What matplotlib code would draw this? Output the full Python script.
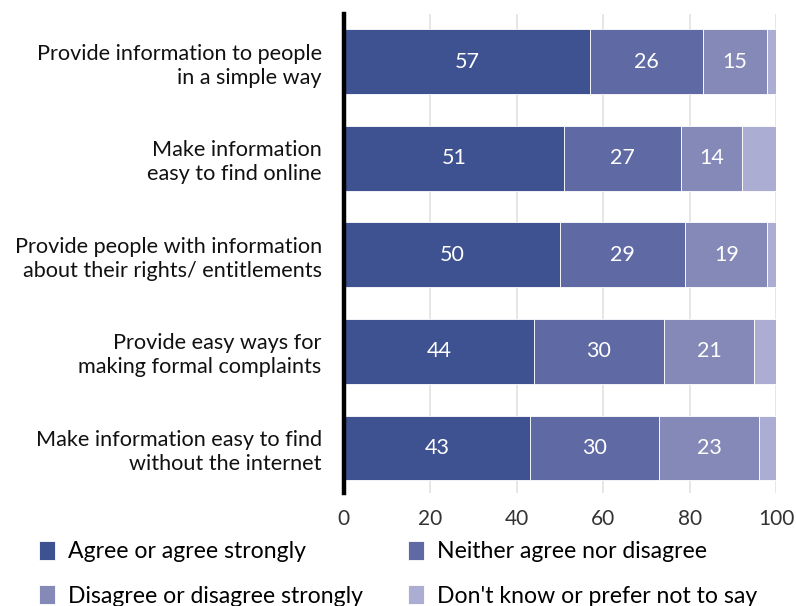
import matplotlib
matplotlib.use("Agg")
import matplotlib.pyplot as plt
import numpy as np

plt.rcParams['font.family'] = ['Lato', 'DejaVu Sans']

categories = [
    "Provide information to people\nin a simple way",
    "Make information\neasy to find online",
    "Provide people with information\nabout their rights/ entitlements",
    "Provide easy ways for\nmaking formal complaints",
    "Make information easy to find\nwithout the internet",
]
agree = [57, 51, 50, 44, 43]
neither = [26, 27, 29, 30, 30]
disagree = [15, 14, 19, 21, 23]
dont_know = [2, 8, 2, 5, 4]

series_names = ["Agree or agree strongly", "Neither agree nor disagree",
                "Disagree or disagree strongly", "Don't know or prefer not to say"]
colors = ["#3E5190", "#5F69A4", "#8589B8", "#ACADD3"]
labelled = [True, True, True, False]

fig = plt.figure(figsize=(7.96, 6.06), dpi=100)
ax = fig.add_axes([0.432, 0.186, 0.543, 0.791])

y = np.arange(len(categories))
left = np.zeros(len(categories))
handles = []
for vals, name, col, show in zip([agree, neither, disagree, dont_know],
                                 series_names, colors, labelled):
    vals = np.array(vals, dtype=float)
    bars = ax.barh(y, vals, left=left, height=0.67, color=col,
                   edgecolor="white", linewidth=0.6, label=name, zorder=2)
    handles.append(bars)
    if show:
        for yi, l, v in zip(y, left, vals):
            ax.text(l + v / 2, yi, f"{v:.0f}", ha="center", va="center",
                    color="white", fontsize=15.5)
    left += vals

ax.set_xlim(0, 100)
ax.set_ylim(4.47, -0.494)
ax.set_xticks([0, 20, 40, 60, 80, 100])
ax.set_yticks(y)
ax.set_yticklabels(categories, ha="right", fontsize=15.6, color="#111111",
                   linespacing=1.25)
ax.tick_params(axis="y", length=0, pad=16)
ax.tick_params(axis="x", length=0, pad=11, labelsize=15, labelcolor="#333333")
ax.xaxis.grid(True, color="#E2E2E2", linewidth=1.2, zorder=0)
ax.set_axisbelow(True)
for s in ["top", "right", "bottom"]:
    ax.spines[s].set_visible(False)
ax.spines["left"].set_linewidth(3.2)
ax.spines["left"].set_color("black")
ax.spines["left"].set_zorder(5)

order = [0, 2, 1, 3]
fig.legend([handles[i] for i in order], [series_names[i] for i in order],
           ncol=2, loc="upper left", bbox_to_anchor=(0.049, 0.107),
           frameon=False, fontsize=16.6, handlelength=0.7, handleheight=0.85,
           handletextpad=0.55, columnspacing=1.95, labelspacing=1.0,
           borderpad=0, borderaxespad=0)

fig.savefig("out.png", dpi=100)
